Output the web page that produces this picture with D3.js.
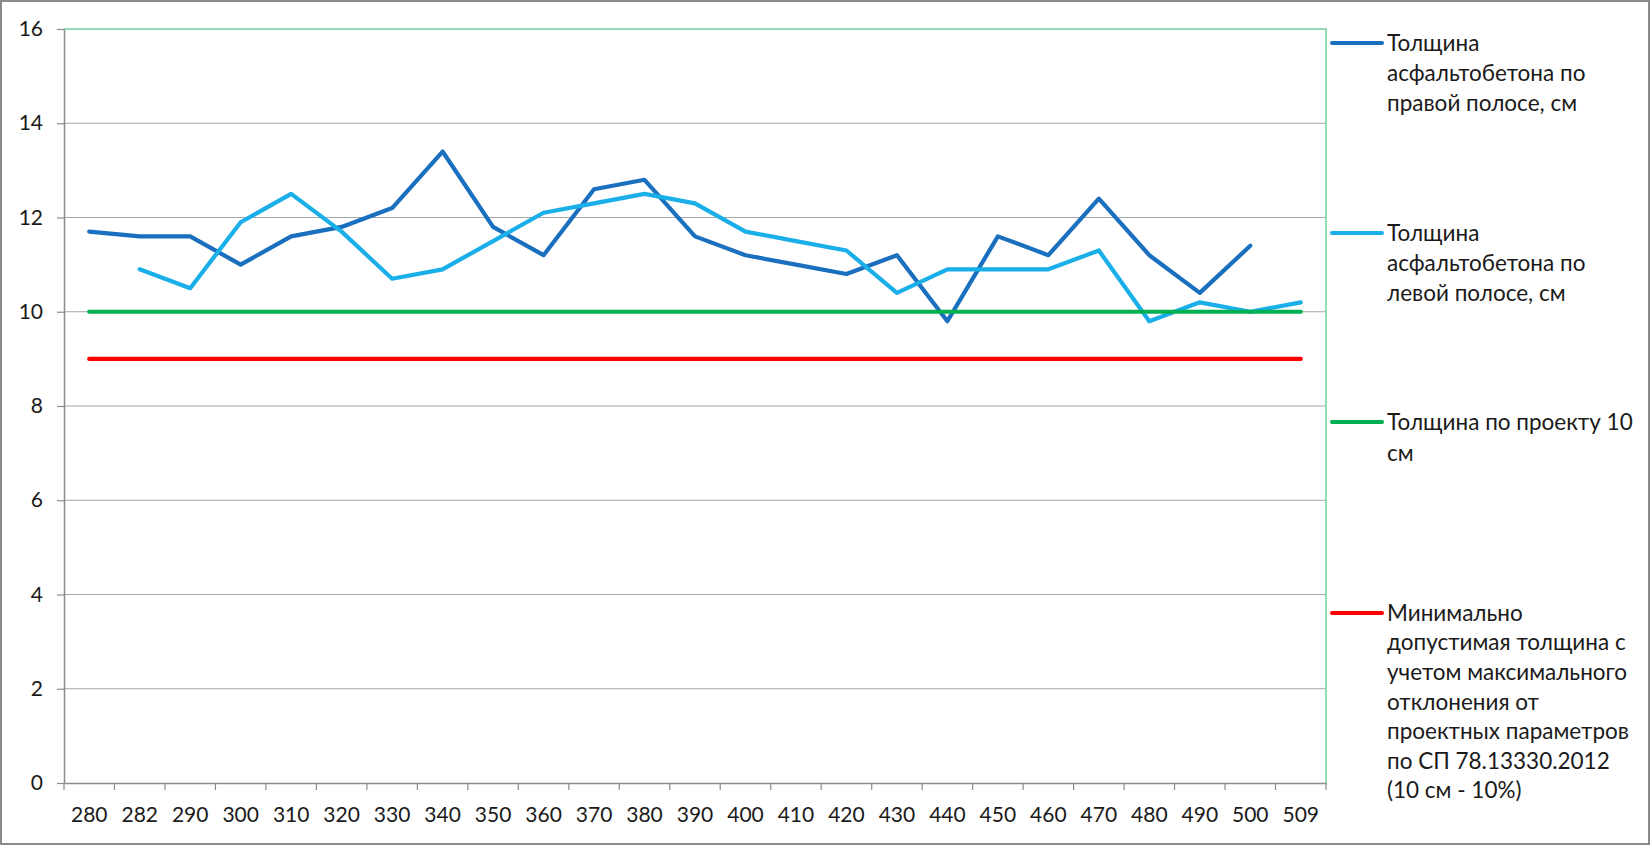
<!DOCTYPE html>
<html>
<head>
<meta charset="utf-8">
<script src="https://cdn.jsdelivr.net/npm/d3@7"></script>
<style>
  html, body { margin: 0; padding: 0; background: #ffffff; }
  svg { display: block; }
  text { font-family: Lato, "Open Sans", sans-serif; fill: #1a1a1a; }
</style>
</head>
<body>
<svg id="chart" width="1650" height="845"></svg>
<script>
// ---------- DATA ----------
const categories = ["280","282","290","300","310","320","330","340","350","360","370","380","390","400","410","420","430","440","450","460","470","480","490","500","509"];
const rightLane = [11.7,11.6,11.6,11.0,11.6,11.8,12.2,13.4,11.8,11.2,12.6,12.8,11.6,11.2,11.0,10.8,11.2,9.8,11.6,11.2,12.4,11.2,10.4,11.4,null];
const leftLane  = [null,10.9,10.5,11.9,12.5,11.7,10.7,10.9,11.5,12.1,12.3,12.5,12.3,11.7,11.5,11.3,10.4,10.9,10.9,10.9,11.3,9.8,10.2,10.0,10.2];
const designThickness = [10,10,10,10,10,10,10,10,10,10,10,10,10,10,10,10,10,10,10,10,10,10,10,10,10];
const minThickness = [9,9,9,9,9,9,9,9,9,9,9,9,9,9,9,9,9,9,9,9,9,9,9,9,9];
const yTicks = [0,2,4,6,8,10,12,14,16];
const seriesNames = [
  ["Толщина", "асфальтобетона по", "правой полосе, см"],
  ["Толщина", "асфальтобетона по", "левой полосе, см"],
  ["Толщина по проекту 10", "см"],
  ["Минимально", "допустимая толщина с", "учетом максимального", "отклонения от", "проектных параметров", "по СП 78.13330.2012", "(10 см - 10%)"]
];
const seriesColors = ["#1a6fbe", "#1aafe8", "#00b050", "#ff0000"];

// ---------- LAYOUT ----------
const svg = d3.select("#chart");
const W = 1650, H = 845;
const plot = { left: 64, right: 1326, top: 29, bottom: 783 };
const FONT = 21;
const LEGEND_FONT = 22.5;

svg.append("rect").attr("x", 0).attr("y", 0).attr("width", W).attr("height", H).attr("fill", "#ffffff");
svg.append("rect").attr("x", 1).attr("y", 1).attr("width", W - 2).attr("height", H - 2)
  .attr("fill", "none").attr("stroke", "#8a8a8a").attr("stroke-width", 2);

const x = d3.scaleBand().domain(categories).range([plot.left, plot.right]).padding(0);
const y = d3.scaleLinear().domain([0, 16]).range([plot.bottom, plot.top]);
const cx = d => x(d) + x.bandwidth() / 2;

// gridlines
svg.append("g").selectAll("line").data(yTicks.filter(t => t > 0 && t < 16)).join("line")
  .attr("x1", plot.left).attr("x2", plot.right)
  .attr("y1", d => y(d)).attr("y2", d => y(d))
  .attr("stroke", "#a6a6a6").attr("stroke-width", 1.2);

// plot area border (green top/right)
svg.append("path")
  .attr("d", `M${plot.left},${y(16)}H${plot.right}V${plot.bottom}`)
  .attr("fill", "none").attr("stroke", "#6fd29e").attr("stroke-width", 1.5);

// Y axis
const yAxis = svg.append("g").attr("transform", `translate(${plot.left},0)`)
  .call(d3.axisLeft(y).tickValues(yTicks).tickSize(7).tickPadding(14).tickSizeOuter(0));
yAxis.select(".domain").attr("stroke", "#8c8c8c").attr("stroke-width", 1.5);
yAxis.selectAll(".tick line").attr("stroke", "#8c8c8c").attr("stroke-width", 1.2);
yAxis.selectAll(".tick text").attr("font-size", FONT).attr("font-family", "Lato, 'Open Sans', sans-serif").attr("fill", "#1a1a1a");

// X axis (labels)
const xAxis = svg.append("g").attr("transform", `translate(0,${plot.bottom})`)
  .call(d3.axisBottom(x).tickSize(0).tickPadding(0).tickSizeOuter(0));
xAxis.select(".domain").attr("stroke", "#8c8c8c").attr("stroke-width", 1.5);
xAxis.selectAll(".tick text").attr("font-size", FONT).attr("font-family", "Lato, 'Open Sans', sans-serif")
  .attr("fill", "#1a1a1a").attr("y", 32).attr("dy", "0.35em");
// boundary tick marks (between categories)
const bounds = categories.map(c => x(c)).concat([x(categories[categories.length - 1]) + x.bandwidth()]);
xAxis.append("g").selectAll("line").data(bounds).join("line")
  .attr("x1", d => d).attr("x2", d => d).attr("y1", 0).attr("y2", 7)
  .attr("stroke", "#8c8c8c").attr("stroke-width", 1.2);

// series lines
const allSeries = [rightLane, leftLane, designThickness, minThickness];
const line = d3.line()
  .defined(d => d.v !== null && d.v !== undefined)
  .x(d => cx(d.c)).y(d => y(d.v));
[0, 1, 2, 3].forEach(i => {
  const data = categories.map((c, k) => ({ c: c, v: allSeries[i][k] }));
  svg.append("path").datum(data)
    .attr("d", line)
    .attr("fill", "none")
    .attr("stroke", seriesColors[i])
    .attr("stroke-width", 4.2)
    .attr("stroke-linejoin", "round")
    .attr("stroke-linecap", "round");
});

// legend
const legendTop = [43, 233, 422, 613];
const lineGap = [30, 30, 31, 29.6];
seriesNames.forEach((lines, i) => {
  const g = svg.append("g");
  g.append("line")
    .attr("x1", 1332).attr("x2", 1382)
    .attr("y1", legendTop[i]).attr("y2", legendTop[i])
    .attr("stroke", seriesColors[i]).attr("stroke-width", 4).attr("stroke-linecap", "round");
  lines.forEach((t, k) => {
    g.append("text")
      .attr("x", 1387).attr("y", legendTop[i] + k * lineGap[i])
      .attr("dy", "0.35em")
      .attr("font-size", LEGEND_FONT)
      .text(t);
  });
});
</script>
</body>
</html>
